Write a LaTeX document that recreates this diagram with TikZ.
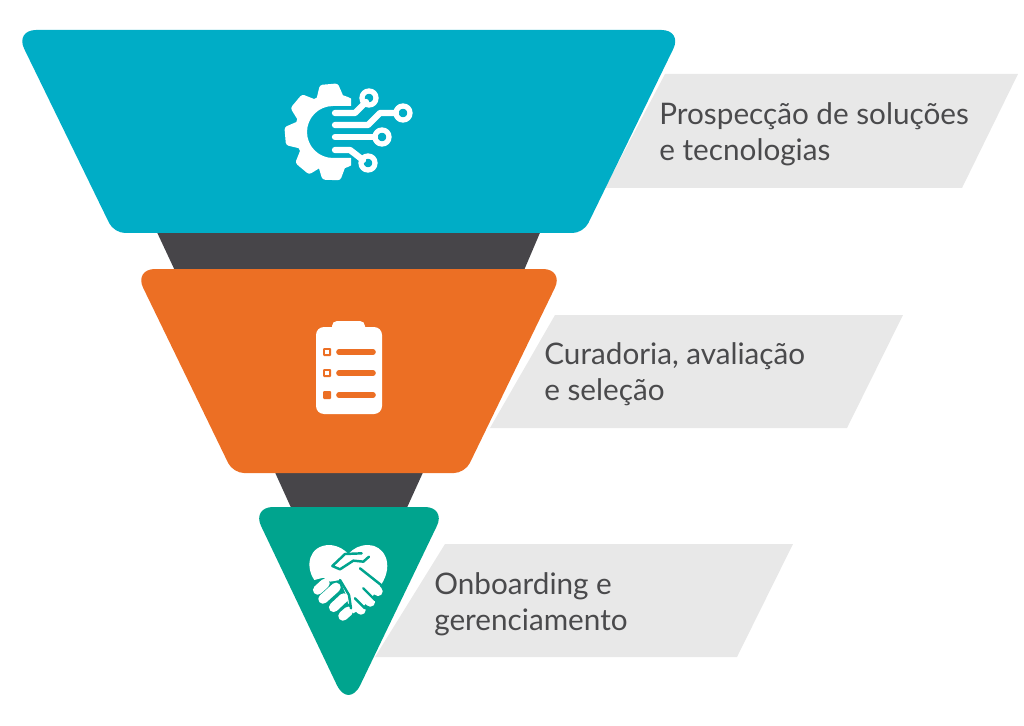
\documentclass[tikz,border=0pt]{standalone}
\usepackage{fontspec}
\setmainfont{Lato}
\definecolor{funnelteal}{HTML}{00ADC6}
\definecolor{funnelorange}{HTML}{EC6F24}
\definecolor{funnelgreen}{HTML}{00A48E}
\definecolor{neckdark}{HTML}{474549}
\definecolor{bandgray}{HTML}{E8E8E8}
\definecolor{labelgray}{HTML}{4A4A4C}
\tikzset{
  wideround/.style={rounded corners=0.42cm},
  softround/.style={rounded corners=0.22cm},
  tipround/.style={rounded corners=0.55cm},
  band/.style={fill=bandgray},
  neck/.style={fill=neckdark},
  steplabel/.style={anchor=west,align=left,inner sep=0pt,text=labelgray,font=\fontsize{16.9}{20.4}\selectfont},
  trace/.style={draw=white,line width=3.6pt,line cap=round,line join=round},
  ring/.style={draw=white,line width=3pt},
  rowline/.style={draw=funnelorange,line width=3.2pt,line cap=round},
  finger/.style={draw=white,line width=5.4pt,line cap=round},
  cut/.style={draw=funnelgreen,line width=1.4pt,line cap=round,line join=round}
}
\begin{document}
\begin{tikzpicture}[x=0.02cm,y=-0.02cm]
\useasboundingbox (0,0) rectangle (1024,726);
% bands behind the funnel
\fill[band] (665,74) -- (1018,74) -- (962,188) -- (605,188) -- cycle;
\fill[band] (555,315) -- (903,315) -- (847,428) -- (490,428) -- cycle;
\fill[band] (445,544) -- (793,544) -- (737,657) -- (375,657) -- cycle;
% necks
\fill[neck] (155,228) -- (542,228) -- (522,275) -- (177,275) -- cycle;
\fill[neck] (273,468) -- (425,468) -- (405,512) -- (293,512) -- cycle;
% funnel
\fill[funnelteal] (349,30) [wideround] -- (682.5,30) [softround] -- (583.5,233) -- (114,233) [wideround] -- (15,30) -- cycle;
\fill[funnelorange] (349,269) [wideround] -- (564,269) [softround] -- (465,473) -- (233,473) [wideround] -- (134,269) -- cycle;
\fill[funnelgreen] (349,507) [wideround] -- (446,507) [tipround] -- (348.5,709.5) [wideround] -- (252,507) -- cycle;
% gear
\begin{scope}
  \clip (270,70) rectangle (351,195);
  \fill[white,even odd rule] (333,132) circle (38)
    (333,106) arc (270:90:26) -- (360,158) -- (360,106) -- cycle;
  \foreach \a in {95,140,185,230,268}
    \fill[white,rotate around={\a:(333,132)},rounded corners=1.5pt] (366,118) -- (381,123) -- (381,141) -- (366,146) -- cycle;
\end{scope}
\draw[trace] (335,113) -- (355,113) -- (366,102);
\draw[trace] (335,125) -- (368,125) -- (380,113) -- (396,113);
\draw[trace] (335,137) -- (375,137);
\draw[trace] (335,150) -- (350,150) -- (363,160);
\draw[ring] (369,98) circle (7);
\draw[ring] (403,113) circle (7);
\draw[ring] (382,137) circle (7);
\draw[ring] (368,163) circle (7);
% clipboard
\fill[white,rounded corners=0.16cm] (316,327) rectangle (382,414);
\fill[white,rounded corners=0.1cm] (332,321) rectangle (365,335);
\foreach \y in {352,373,395} {
  \fill[funnelorange,rounded corners=0.02cm] (323,\y-4) rectangle (331,\y+4);
  \draw[rowline] (339,\y) -- (373,\y);
}
\fill[white] (325,350) rectangle (329,354);
\fill[white] (325,371) rectangle (329,375);
% handshake
\begin{scope}[shift={(295,530)},x=0.00667cm,y=-0.00667cm]
  \fill[white] (58,150) .. controls (30,110) and (40,45) .. (105,45)
    .. controls (130,47) and (150,60) .. (160,72)
    .. controls (175,55) and (195,45) .. (220,45)
    .. controls (265,45) and (300,100) .. (258,165)
    -- (240,190) -- (200,235) -- (175,250) -- (135,150) -- (105,155) -- (85,143) -- cycle;
  \draw[finger] (68,180) -- (90,160);
  \draw[finger] (84,207) -- (123,172);
  \draw[finger] (116,232) -- (146,204);
  \draw[finger] (144,258) -- (160,244);
  \draw[finger] (215,150) -- (249,184);
  \draw[finger] (190,180) -- (226,216);
  \draw[finger] (170,210) -- (198,240);
  \draw[cut] (222,80) -- (205,95) -- (175,92) -- (135,118) -- (112,108) -- (150,72) -- (200,70);
  \draw[cut] (195,115) -- (262,168);
  \draw[cut] (205,175) -- (240,210);
  \draw[cut] (180,205) -- (210,235);
  \draw[cut] (135,150) -- (162,195) -- (168,235);
\end{scope}
% labels
\node[steplabel] (prospeccao) at (659,134) {Prospecção de soluções\\e tecnologias};
\node[steplabel] (curadoria) at (544,374) {Curadoria, avaliação\\e seleção};
\node[steplabel] (onboarding) at (434,604) {Onboarding e\\gerenciamento};
\end{tikzpicture}
\end{document}
